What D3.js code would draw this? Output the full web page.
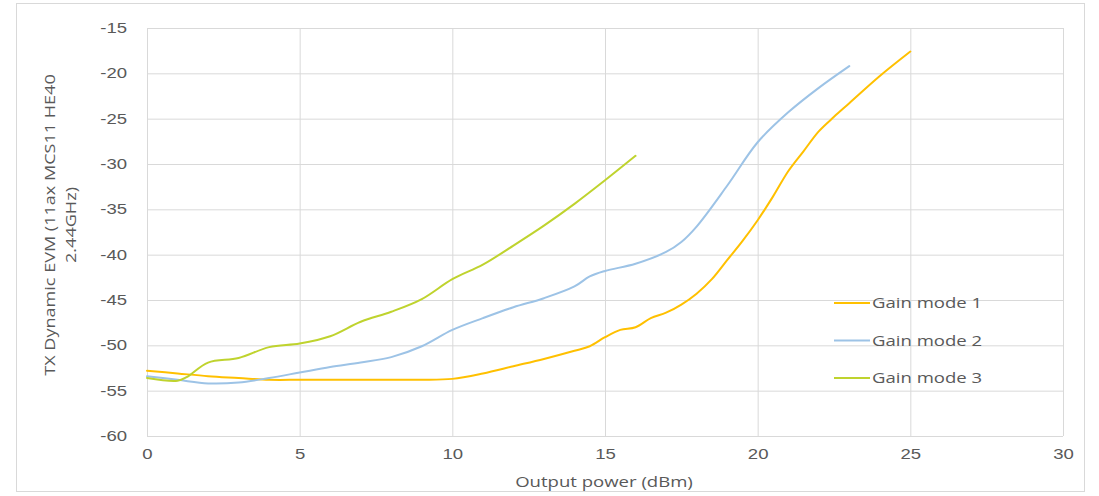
<!DOCTYPE html>
<html><head><meta charset="utf-8">
<script src="https://cdn.jsdelivr.net/npm/d3@7"></script>
<style>body{margin:0;background:#fff;}svg{display:block;font-family:"Open Sans","Noto Sans",sans-serif;}</style>
</head><body><svg id="c" width="1099" height="496"></svg>
<script>
const xTicks=[0,5,10,15,20,25,30];
const yTicks=[-15,-20,-25,-30,-35,-40,-45,-50,-55,-60];
const seriesNames=["Gain mode 1","Gain mode 2","Gain mode 3"];
const colors=["#FFC000","#9DC3E6","#BFD32E"];
const g1x=[0,1,2,3,4,5,6,7,8,9,10,11,12,13,14,14.5,15,15.5,16,16.5,17,17.5,18,18.5,19,19.5,20,20.5,21,21.5,22,22.5,23,24,25];
const g1y=[-52.8,-53.1,-53.4,-53.6,-53.8,-53.8,-53.8,-53.8,-53.8,-53.8,-53.7,-53.1,-52.3,-51.5,-50.6,-50.1,-49.1,-48.3,-48.0,-47.0,-46.4,-45.5,-44.3,-42.7,-40.6,-38.5,-36.2,-33.6,-30.8,-28.6,-26.4,-24.8,-23.3,-20.3,-17.6];
const g2x=[0,1,2,3,4,5,6,7,8,9,10,11,12,13,14,14.5,15,16,17,17.5,18,19,20,21,22,23];
const g2y=[-53.4,-53.8,-54.2,-54.1,-53.6,-53.0,-52.4,-51.9,-51.3,-50.1,-48.3,-47.0,-45.8,-44.8,-43.5,-42.4,-41.8,-41.0,-39.7,-38.6,-36.9,-32.4,-27.6,-24.3,-21.6,-19.2];
const g3x=[0,1,1.3,2,3,4,5,6,7,8,9,10,11,12,13,14,15,16];
const g3y=[-53.6,-53.9,-53.5,-51.9,-51.4,-50.2,-49.8,-49.0,-47.4,-46.3,-44.9,-42.7,-41.1,-39.0,-36.8,-34.4,-31.8,-29.1];
const data=[g1x.map((x,i)=>[x,g1y[i]]),g2x.map((x,i)=>[x,g2y[i]]),g3x.map((x,i)=>[x,g3y[i]])];

const SX=1.28;
const svg=d3.select("#c");
svg.append("rect").attr("x",16.5).attr("y",3.5).attr("width",1068).attr("height",488).attr("fill","#fff").attr("stroke","#d9d9d9");
const L=147,R=1063,T=28,B=436;
const x=d3.scaleLinear().domain([0,30]).range([L,R]);
const y=d3.scaleLinear().domain([-60,-15]).range([B,T]);
const grid=svg.append("g");
grid.selectAll("line.h").data(yTicks).join("line").attr("x1",L).attr("x2",R).attr("y1",d=>y(d)+0.5).attr("y2",d=>y(d)+0.5).attr("stroke","#d9d9d9");
grid.selectAll("line.v").data(xTicks).join("line").attr("y1",T).attr("y2",B).attr("x1",d=>x(d)+0.5).attr("x2",d=>x(d)+0.5).attr("stroke","#d9d9d9");
const ya=svg.append("g").attr("transform",`translate(${L},0)`).call(d3.axisLeft(y).tickValues(yTicks).tickSize(0).tickPadding(15.5).tickFormat(d=>String(d)));
ya.select(".domain").remove();
ya.selectAll("text").attr("font-size",14.5).attr("fill","#595959").attr("transform",`scale(${SX},1)`);
const xa=svg.append("g").attr("transform",`translate(0,${B})`).call(d3.axisBottom(x).tickValues(xTicks).tickSize(0).tickPadding(13).tickFormat(d=>String(d)));
xa.select(".domain").remove();
xa.selectAll("text").attr("font-size",14.5).attr("fill","#595959").attr("transform",`scale(${SX},1)`);
const line=d3.line().x(d=>x(d[0])).y(d=>y(d[1])).curve(d3.curveCatmullRom.alpha(0.5));
svg.append("g").selectAll("path").data(data).join("path").attr("d",line).attr("fill","none").attr("stroke",(d,i)=>colors[i]).attr("stroke-width",2).attr("stroke-linejoin","round").attr("stroke-linecap","round");
svg.append("text").attr("transform",`translate(604,487) scale(${SX},1)`).attr("text-anchor","middle").attr("font-size",14.5).attr("fill","#595959").text("Output power (dBm)");
const yt=svg.append("text").attr("transform",`translate(55,225) rotate(-90) scale(1.22,1)`).attr("text-anchor","middle").attr("font-size",14.8).attr("fill","#595959");
yt.append("tspan").attr("x",0).attr("dy",0).text("TX Dynamic EVM (11ax MCS11 HE40");
yt.append("tspan").attr("x",0).attr("dy",21).text("2.44GHz)");
const lg=svg.append("g");
seriesNames.forEach((n,i)=>{
  const ly=303+i*37.5;
  lg.append("line").attr("x1",834).attr("x2",870).attr("y1",ly).attr("y2",ly).attr("stroke",colors[i]).attr("stroke-width",2);
  lg.append("text").attr("transform",`translate(872,${ly+5}) scale(${SX},1)`).attr("font-size",14.5).attr("fill","#595959").text(n);
});
</script></body></html>
